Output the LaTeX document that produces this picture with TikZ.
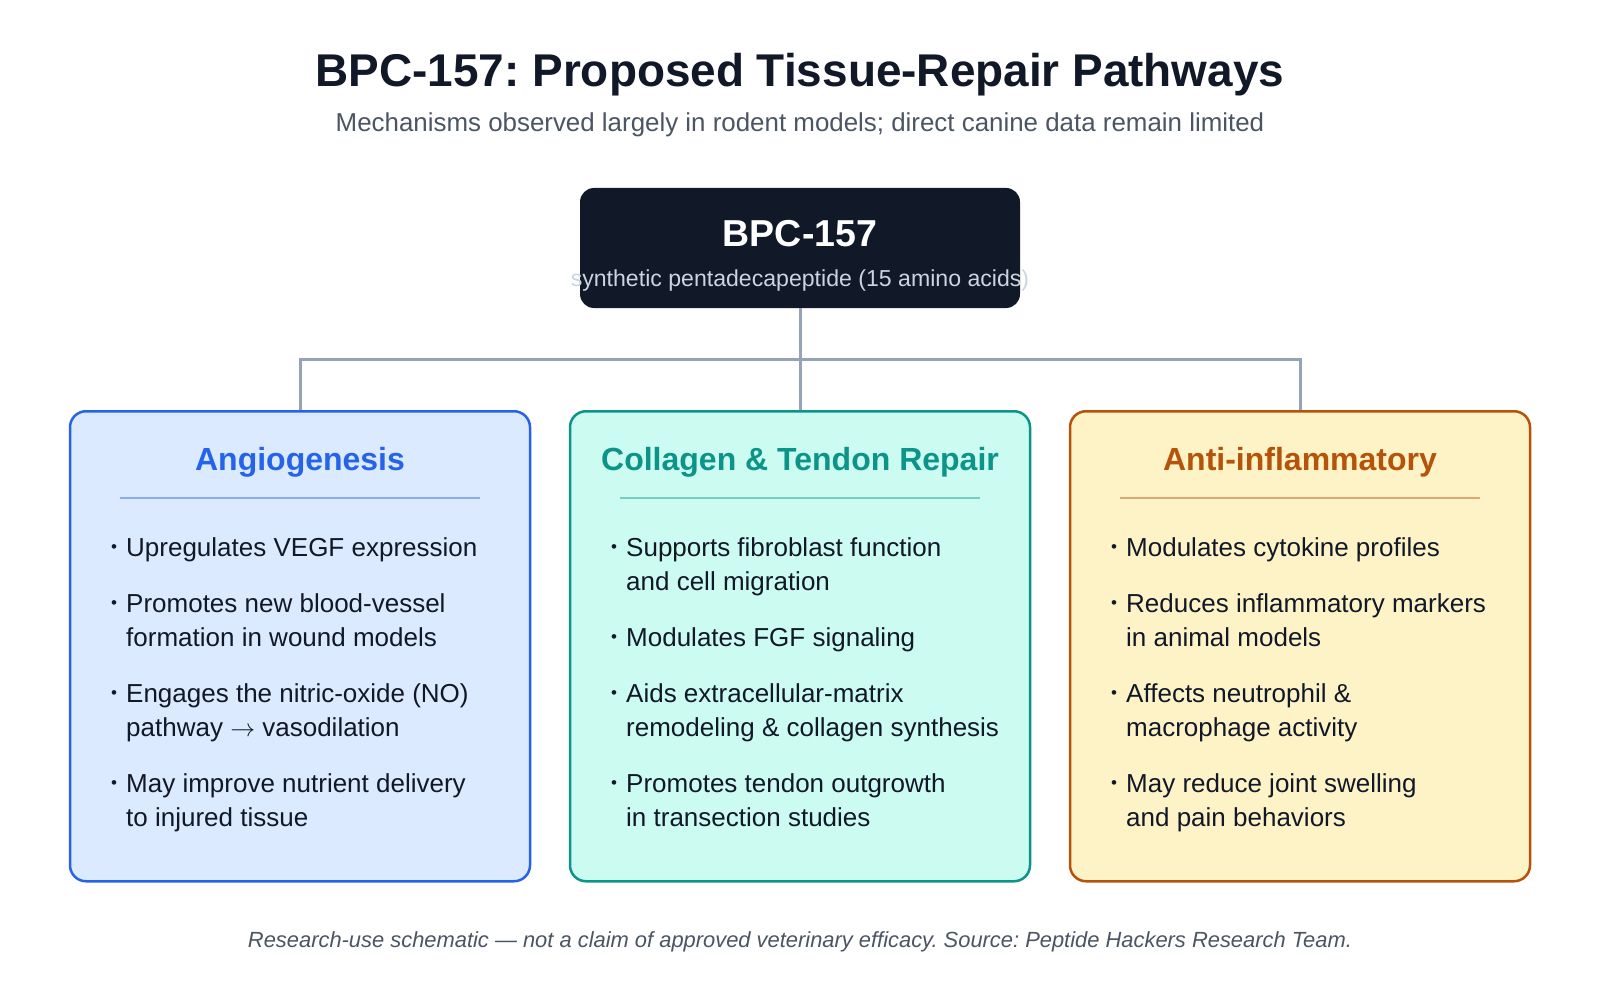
\documentclass[tikz,border=0pt]{standalone}
\usepackage{fontspec}
\setmainfont{Liberation Sans}
\frenchspacing
\definecolor{ink}{HTML}{111827}
\definecolor{subgray}{HTML}{4B5563}
\definecolor{coretxt}{HTML}{CBD5E1}
\definecolor{conn}{HTML}{94A3B8}
\definecolor{blueb}{HTML}{2563EB}
\definecolor{bluef}{HTML}{DBEAFE}
\definecolor{tealb}{HTML}{0D9488}
\definecolor{tealf}{HTML}{CCFBF1}
\definecolor{amberb}{HTML}{B45309}
\definecolor{amberf}{HTML}{FEF3C7}
\newcommand{\fsz}[1]{\fontsize{#1}{#1}\selectfont}
\tikzset{
  card/.style={draw=#1, line width=2.5pt, rounded corners=16pt, minimum width=460pt, minimum height=470pt, anchor=north, inner sep=0pt},
  hdr/.style={anchor=base, inner sep=0pt, font=\fsz{32}\bfseries, text=#1},
  sepline/.style={draw=#1, line width=1.5pt},
  btxt/.style={anchor=base west, inner sep=0pt, font=\fsz{26}, text=ink},
  bdot/.style={anchor=base, inner sep=0pt, font=\fsz{17}, text=ink},
  wire/.style={draw=conn, line width=3pt},
}
\begin{document}
\begin{tikzpicture}[x=1pt,y=-1pt]
\useasboundingbox[fill=white] (0,0) rectangle (1600,1000);

% title
\node[anchor=base, inner sep=0pt, font=\fsz{45.9}\bfseries, text=ink] (title) at (800,87) {BPC-157: Proposed Tissue-Repair Pathways};
\node[anchor=base, inner sep=0pt, font=\fsz{25.9}, text=subgray] (subtitle) at (800,132) {Mechanisms observed largely in rodent models; direct canine data remain limited};

% core
\node[fill=ink, rounded corners=14pt, minimum width=440pt, minimum height=120pt, inner sep=0pt] (core) at (800,248) {};
\node[anchor=base, inner sep=0pt, font=\fsz{37.5}\bfseries, text=white] (coretitle) at (800,247) {BPC-157};
\node[anchor=base, inner sep=0pt, font=\fsz{23.1}, text=coretxt] (coresub) at (800,287) {synthetic pentadecapeptide (15 amino acids)};

% cards
\node[card=blueb, fill=bluef] (angio) at (300,410) {};
\node[card=tealb, fill=tealf] (coll) at (800,410) {};
\node[card=amberb, fill=amberf] (anti) at (1300,410) {};

% connectors
\coordinate (bus) at (800,359);
\draw[wire] (core.south) -- (coll.north);
\draw[wire] (angio.north) -- (angio.north |- bus) -- (anti.north |- bus) -- (anti.north);

% headers
\node[hdr=blueb] (h1) at (300,470) {Angiogenesis};
\node[hdr=tealb] (h2) at (800,470) {Collagen \& Tendon Repair};
\node[hdr=amberb] (h3) at (1300,470) {Anti-inflammatory};
\draw[sepline=blueb!45!bluef] (120,498) -- (480,498);
\draw[sepline=tealb!45!tealf] (620,498) -- (980,498);
\draw[sepline=amberb!45!amberf] (1120,498) -- (1480,498);

% left column
\node[bdot] (d11) at (114,552) {•};
\node[btxt] (t11) at (126,556) {Upregulates VEGF expression};
\node[bdot] (d12) at (114,608) {•};
\node[btxt] (t12a) at (126,612) {Promotes new blood-vessel};
\node[btxt] (t12b) at (126,646) {formation in wound models};
\node[bdot] (d13) at (114,698) {•};
\node[btxt] (t13a) at (126,702) {Engages the nitric-oxide (NO)};
\node[btxt] (t13b) at (126,736) {pathway $\rightarrow$ vasodilation};
\node[bdot] (d14) at (114,788) {•};
\node[btxt] (t14a) at (126,792) {May improve nutrient delivery};
\node[btxt] (t14b) at (126,826) {to injured tissue};

% middle column
\node[bdot] (d21) at (614,552) {•};
\node[btxt] (t21a) at (626,556) {Supports fibroblast function};
\node[btxt] (t21b) at (626,590) {and cell migration};
\node[bdot] (d22) at (614,642) {•};
\node[btxt] (t22) at (626,646) {Modulates FGF signaling};
\node[bdot] (d23) at (614,698) {•};
\node[btxt] (t23a) at (626,702) {Aids extracellular-matrix};
\node[btxt] (t23b) at (626,736) {remodeling \& collagen synthesis};
\node[bdot] (d24) at (614,788) {•};
\node[btxt] (t24a) at (626,792) {Promotes tendon outgrowth};
\node[btxt] (t24b) at (626,826) {in transection studies};

% right column
\node[bdot] (d31) at (1114,552) {•};
\node[btxt] (t31) at (1126,556) {Modulates cytokine profiles};
\node[bdot] (d32) at (1114,608) {•};
\node[btxt] (t32a) at (1126,612) {Reduces inflammatory markers};
\node[btxt] (t32b) at (1126,646) {in animal models};
\node[bdot] (d33) at (1114,698) {•};
\node[btxt] (t33a) at (1126,702) {Affects neutrophil \&};
\node[btxt] (t33b) at (1126,736) {macrophage activity};
\node[bdot] (d34) at (1114,788) {•};
\node[btxt] (t34a) at (1126,792) {May reduce joint swelling};
\node[btxt] (t34b) at (1126,826) {and pain behaviors};

% footer
\node[anchor=base, inner sep=0pt, font=\fsz{21.9}\itshape, text=subgray] (footer) at (800,947) {Research-use schematic — not a claim of approved veterinary efficacy. Source: Peptide Hackers Research Team.};
\end{tikzpicture}
\end{document}
